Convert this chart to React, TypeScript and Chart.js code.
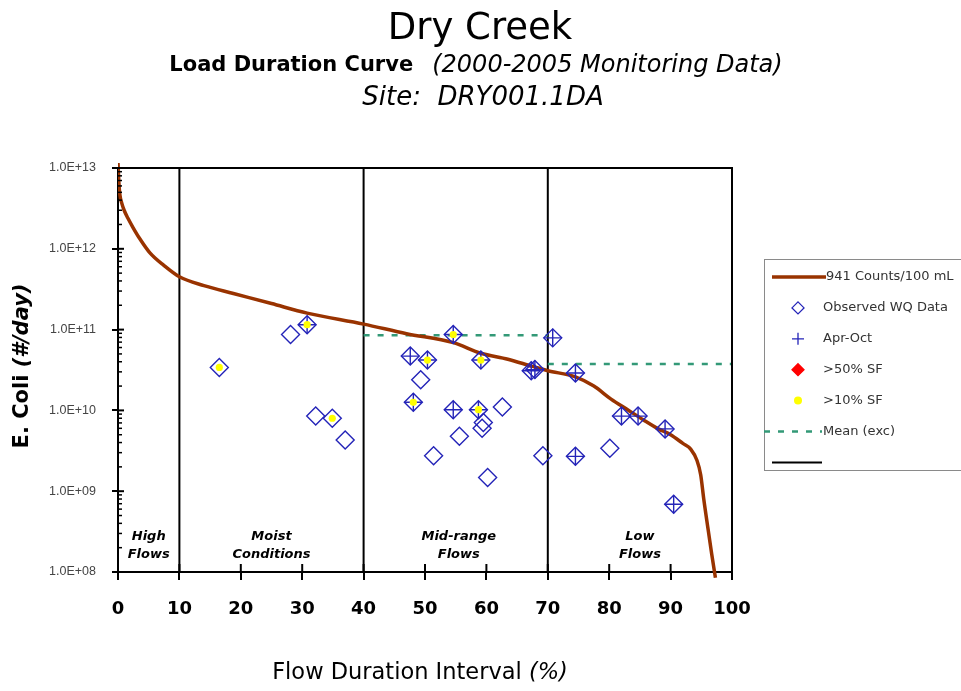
import React, { useEffect, useRef } from 'react';
import { Chart, registerables } from 'chart.js';

Chart.register(...registerables);

// ---------------- data ----------------
const curveFlow = [0, 0.15, 0.3, 0.6, 1.0, 1.6, 2.4, 3.5, 5.2, 7.5, 10, 14, 18.8, 25, 30.8, 40, 47, 54.6, 59.1, 63.5, 67.5, 70, 74.5, 77.5, 80.3, 83, 85.6, 88, 90, 92, 93.3, 94.3, 94.9, 95.4, 96.1, 96.7, 97.3];
const curveLoad = [1.15e13, 6.5e12, 4.7e12, 3.7e12, 3.0e12, 2.4e12, 1.86e12, 1.35e12, 8.9e11, 6.2e11, 4.5e11, 3.5e11, 2.8e11, 2.1e11, 1.6e11, 1.17e11, 8.9e10, 6.9e10, 5.1e10, 4.3e10, 3.5e10, 3.1e10, 2.6e10, 2.0e10, 1.38e10, 1.02e10, 7.6e9, 5.9e9, 5.0e9, 3.9e9, 3.3e9, 2.4e9, 1.6e9, 8.0e8, 3.4e8, 1.66e8, 8.5e7];

const obsFlow = [16.5, 28.1, 30.8, 32.2, 34.9, 37.0, 47.6, 48.1, 49.3, 50.4, 51.4, 54.6, 54.6, 55.6, 58.7, 59.1, 59.5, 59.3, 60.2, 62.6, 67.3, 67.9, 69.2, 70.8, 74.5, 74.5, 80.1, 82.0, 84.7, 89.1, 90.5];
const obsLoad = [3.4e10, 8.7e10, 1.15e11, 8.5e9, 8.0e9, 4.3e9, 4.7e10, 1.26e10, 2.4e10, 4.2e10, 2.75e9, 8.7e10, 1.02e10, 4.8e9, 1.02e10, 4.2e10, 7.1e9, 6.0e9, 1.48e9, 1.1e10, 3.1e10, 3.2e10, 2.75e9, 7.9e10, 2.9e10, 2.7e9, 3.4e9, 8.5e9, 8.5e9, 5.9e9, 6.9e8];

const aprOctFlow = [30.8, 47.6, 48.1, 50.4, 54.6, 54.6, 58.7, 59.1, 67.3, 67.9, 70.8, 74.5, 74.5, 82.0, 84.7, 89.1, 90.5];
const aprOctLoad = [1.15e11, 4.7e10, 1.26e10, 4.2e10, 8.7e10, 1.02e10, 1.02e10, 4.2e10, 3.1e10, 3.2e10, 7.9e10, 2.9e10, 2.7e9, 8.5e9, 8.5e9, 5.9e9, 6.9e8];

const sf10Flow = [16.5, 30.8, 34.9, 48.1, 50.4, 54.6, 58.7, 59.1];
const sf10Load = [3.4e10, 1.15e11, 8.0e9, 1.26e10, 4.2e10, 8.7e10, 1.02e10, 4.2e10];

const sf50Flow: number[] = [];
const sf50Load: number[] = [];

const meanFlow = [40, 70, 70, 70, 100];
const meanLoad = [8.5e10, 8.5e10, null, 3.75e10, 3.75e10];

const zoneBounds = [10, 40, 70];
const zoneLabels = [
  { at: 5, lines: ['High', 'Flows'] },
  { at: 25, lines: ['Moist', 'Conditions'] },
  { at: 55.5, lines: ['Mid-range', 'Flows'] },
  { at: 85, lines: ['Low', 'Flows'] },
];

const xTickStep = 10;
const yMin = 1e8;
const yMax = 1e13;

const BLUE = '#2424b8';
const BROWN = '#993300';
const GREEN = '#339977';

const pts = (xs: number[], ys: (number | null)[]) => xs.map((x, i) => ({ x, y: ys[i] }));

const zoneData: { x: number; y: number | null }[] = [];
zoneBounds.forEach((b) => {
  zoneData.push({ x: b, y: yMin }, { x: b, y: yMax }, { x: b, y: null });
});

const isPow10 = (v: number) => {
  const e = Math.log10(v);
  return Math.abs(e - Math.round(e)) < 1e-6;
};

const FONT = '"DejaVu Sans", "Liberation Sans", sans-serif';

function drawParts(ctx: CanvasRenderingContext2D, parts: { t: string; f: string }[], cx: number, cy: number) {
  let total = 0;
  const widths = parts.map((p) => {
    ctx.font = p.f;
    const w = ctx.measureText(p.t).width;
    total += w;
    return w;
  });
  let x = cx - total / 2;
  ctx.textAlign = 'left';
  ctx.textBaseline = 'middle';
  parts.forEach((p, i) => {
    ctx.font = p.f;
    ctx.fillText(p.t, x, cy);
    x += widths[i];
  });
}

const overlay = {
  id: 'overlay',
  afterDraw(chart: any) {
    const { ctx, chartArea: a, scales } = chart;
    const xs = scales.x;
    const ys = scales.y;
    ctx.save();
    ctx.strokeStyle = '#000';
    ctx.lineWidth = 2;
    // frame top + right
    ctx.beginPath();
    ctx.moveTo(a.left, a.top);
    ctx.lineTo(a.right, a.top);
    ctx.lineTo(a.right, a.bottom);
    ctx.stroke();
    // inner halves of x ticks
    xs.ticks.forEach((t: any) => {
      const px = xs.getPixelForValue(t.value);
      ctx.beginPath();
      ctx.moveTo(px, a.bottom - 8);
      ctx.lineTo(px, a.bottom);
      ctx.stroke();
    });
    // y ticks inner: major + minor
    for (let e = 8; e <= 12; e++) {
      for (let k = 1; k <= 9; k++) {
        const py = ys.getPixelForValue(k * Math.pow(10, e));
        ctx.lineWidth = k === 1 ? 2 : 1.5;
        ctx.beginPath();
        ctx.moveTo(a.left, py);
        ctx.lineTo(a.left + (k === 1 ? 6 : 4), py);
        ctx.stroke();
      }
    }
    // zone labels
    ctx.fillStyle = '#000';
    ctx.textAlign = 'center';
    ctx.textBaseline = 'middle';
    ctx.font = `italic bold 13px ${FONT}`;
    zoneLabels.forEach((z) => {
      const px = xs.getPixelForValue(z.at);
      z.lines.forEach((ln, i) => ctx.fillText(ln, px, 537 + i * 18));
    });
    // titles
    ctx.fillStyle = '#000';
    drawParts(ctx, [{ t: 'Dry Creek', f: `37px ${FONT}` }], 480, 29);
    drawParts(
      ctx,
      [
        { t: 'Load Duration Curve', f: `bold 21px ${FONT}` },
        { t: '   ', f: `20px ${FONT}` },
        { t: '(2000-2005 Monitoring Data)', f: `italic 24px ${FONT}` },
      ],
      476,
      66
    );
    drawParts(ctx, [{ t: 'Site:  DRY001.1DA', f: `italic 26px ${FONT}` }], 483, 98);
    // x title
    drawParts(
      ctx,
      [
        { t: 'Flow Duration Interval ', f: `22.5px ${FONT}` },
        { t: '(%)', f: `italic 22.5px ${FONT}` },
      ],
      420,
      673
    );
    // y title
    ctx.save();
    ctx.translate(23, 366);
    ctx.rotate(-Math.PI / 2);
    drawParts(
      ctx,
      [
        { t: 'E. Coli ', f: `bold 21px ${FONT}` },
        { t: '(#/day)', f: `italic bold 21px ${FONT}` },
      ],
      0,
      0
    );
    ctx.restore();

    // legend
    const lx = 764;
    const ly = 259;
    ctx.strokeStyle = '#8a8a8a';
    ctx.lineWidth = 1;
    ctx.strokeRect(lx + 0.5, ly + 0.5, 230, 211);
    const rowY0 = 277;
    const rowH = 30.9;
    const symX = 798;
    chart.data.datasets.forEach((ds: any) => {
      const kind = ds.legendKind;
      const y = rowY0 + ds.legendRow * rowH;
      ctx.save();
      if (kind === 'line') {
        ctx.strokeStyle = ds.borderColor;
        ctx.lineWidth = ds.borderWidth;
        ctx.setLineDash(ds.borderDash || []);
        const x0 = ds.borderDash ? 764 : 772;
        const x1 = ds.legendRow === 0 ? 826 : 822;
        ctx.beginPath();
        ctx.moveTo(x0, y);
        ctx.lineTo(x1, y);
        ctx.stroke();
      } else {
        const st = ds.pointStyle;
        ctx.strokeStyle = ds.borderColor;
        ctx.fillStyle = ds.backgroundColor;
        ctx.lineWidth = 1.3;
        const r = st === 'circle' ? 4 : 6;
        ctx.beginPath();
        if (st === 'rectRot') {
          ctx.moveTo(symX, y - r);
          ctx.lineTo(symX + r, y);
          ctx.lineTo(symX, y + r);
          ctx.lineTo(symX - r, y);
          ctx.closePath();
          ctx.fill();
          ctx.stroke();
        } else if (st === 'cross') {
          ctx.moveTo(symX - r, y);
          ctx.lineTo(symX + r, y);
          ctx.moveTo(symX, y - r);
          ctx.lineTo(symX, y + r);
          ctx.stroke();
        } else {
          ctx.arc(symX, y, r, 0, Math.PI * 2);
          ctx.fill();
        }
      }
      ctx.restore();
      if (ds.label) {
        ctx.fillStyle = '#333';
        ctx.font = `13px ${FONT}`;
        ctx.textAlign = 'left';
        ctx.textBaseline = 'middle';
        ctx.fillText(ds.label, ds.legendRow === 0 ? 826 : 823, y);
      }
    });
    ctx.restore();
  },
};

export default function App() {
  const ref = useRef<HTMLCanvasElement | null>(null);
  useEffect(() => {
    if (!ref.current) return;
    const datasets: any[] = [
      {
        type: 'line',
        label: '941 Counts/100 mL',
        data: pts(curveFlow, curveLoad),
        borderColor: BROWN,
        backgroundColor: BROWN,
        borderWidth: 3.5,
        pointRadius: 0,
        showLine: true,
        cubicInterpolationMode: 'monotone',
        clip: { left: 0, top: 6, right: 0, bottom: 8 },
        order: 4,
        legendKind: 'line',
        legendRow: 0,
      },
      {
        type: 'scatter',
        label: 'Observed WQ Data',
        data: pts(obsFlow, obsLoad),
        pointStyle: 'rectRot',
        pointRadius: 9,
        borderColor: BLUE,
        backgroundColor: 'rgba(0,0,0,0)',
        borderWidth: 1.4,
        order: 2,
        legendKind: 'point',
        legendRow: 1,
      },
      {
        type: 'scatter',
        label: 'Apr-Oct',
        data: pts(aprOctFlow, aprOctLoad),
        pointStyle: 'cross',
        pointRadius: 9,
        borderColor: BLUE,
        backgroundColor: BLUE,
        borderWidth: 1.4,
        order: 1,
        legendKind: 'point',
        legendRow: 2,
      },
      {
        type: 'scatter',
        label: '>50% SF',
        data: pts(sf50Flow, sf50Load),
        pointStyle: 'rectRot',
        pointRadius: 6,
        borderColor: '#ff0000',
        backgroundColor: '#ff0000',
        borderWidth: 1,
        order: 3,
        legendKind: 'point',
        legendRow: 3,
      },
      {
        type: 'scatter',
        label: '>10% SF',
        data: pts(sf10Flow, sf10Load),
        pointStyle: 'circle',
        pointRadius: 3.6,
        borderColor: '#ffff00',
        backgroundColor: '#ffff00',
        borderWidth: 0,
        order: 0,
        legendKind: 'point',
        legendRow: 4,
      },
      {
        type: 'line',
        label: 'Mean (exc)',
        data: pts(meanFlow, meanLoad),
        borderColor: GREEN,
        borderWidth: 2.5,
        borderDash: [6, 8],
        pointRadius: 0,
        showLine: true,
        spanGaps: false,
        order: 5,
        legendKind: 'line',
        legendRow: 5,
      },
      {
        type: 'line',
        label: '',
        data: zoneData,
        borderColor: '#000',
        borderWidth: 2,
        pointRadius: 0,
        showLine: true,
        spanGaps: false,
        order: 6,
        legendKind: 'line',
        legendRow: 6,
      },
    ];
    const chart = new Chart(ref.current, {
      type: 'scatter',
      data: { datasets },
      options: {
        animation: false,
        responsive: false,
        events: [],
        layout: { padding: { left: 0, right: 229, top: 168, bottom: 0 } },
        scales: {
          x: {
            type: 'linear',
            min: 0,
            max: 100,
            afterFit: (s: any) => {
              s.height = 119;
            },
            ticks: {
              stepSize: xTickStep,
              color: '#000',
              padding: 19,
              font: { family: FONT, size: 18, weight: 'bold' },
            },
            grid: { drawOnChartArea: false, drawTicks: true, tickLength: 8, color: '#000', lineWidth: 2 },
            border: { color: '#000', width: 2 },
          },
          y: {
            type: 'logarithmic',
            min: yMin,
            max: yMax,
            afterFit: (s: any) => {
              s.width = 118;
            },
            ticks: {
              autoSkip: false,
              color: '#444',
              padding: 16,
              font: { family: '"Liberation Sans", sans-serif', size: 12.5 },
              callback: (v: any) => {
                const n = Number(v);
                if (!isPow10(n)) return '';
                const e = Math.round(Math.log10(n));
                return `1.0E+${String(e).padStart(2, '0')}`;
              },
            },
            grid: {
              drawOnChartArea: false,
              drawTicks: true,
              tickLength: 6,
              lineWidth: 2,
              color: (c: any) => (c.tick && isPow10(c.tick.value) ? '#000' : 'rgba(0,0,0,0)'),
            },
            border: { color: '#000', width: 2 },
          },
        },
        plugins: { legend: { display: false }, tooltip: { enabled: false }, title: { display: false } },
      } as any,
      plugins: [overlay],
    });
    return () => chart.destroy();
  }, []);
  return (
    <div style={{ position: 'fixed', left: 0, top: 0, width: 961, height: 691, background: '#fff' }}>
      <canvas ref={ref} width={961} height={691} style={{ display: 'block', width: 961, height: 691 }} />
    </div>
  );
}
